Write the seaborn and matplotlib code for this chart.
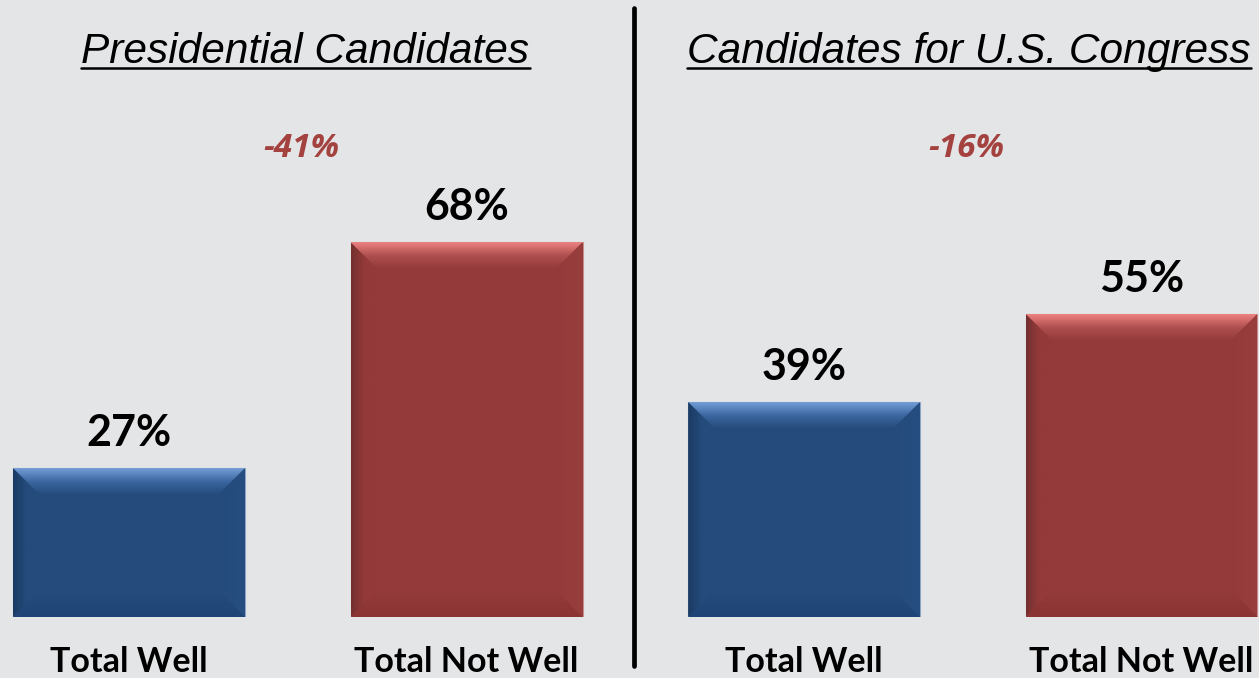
import numpy as np
import pandas as pd
import seaborn as sns
import matplotlib.pyplot as plt
from matplotlib.colors import LinearSegmentedColormap
from matplotlib.patches import Polygon
from matplotlib.lines import Line2D

# data
categories = ['Total Well', 'Total Not Well']
panel_titles = ['Presidential Candidates', 'Candidates for U.S. Congress']
presidential = [27, 68]
congress = [39, 55]
gap_labels = ['-41%', '-16%']

sns.set_theme(style='white')
plt.rcParams['font.family'] = ['Lato', 'DejaVu Sans']

BG = '#E4E5E7'
W, H = 1259, 678

# face, top edge, top mid, left, right, bottom
bevel_cols = {
    'Total Well': ('#244B7B', '#729DD6', '#3B669F', '#1B3B63', '#264E80', '#1F4576'),
    'Total Not Well': ('#943A3A', '#EE8281', '#AD4F4E', '#74302F', '#983E3D', '#8A3433'),
}
edge_cols = {'Total Well': '#8EA6C6', 'Total Not Well': '#C98C8B'}


def add_bevel(ax, patch, cols, size=27):
    face, top, mid, left, right, bottom = cols
    x0, y0 = patch.get_x(), patch.get_y()
    x1, y1 = x0 + patch.get_width(), y0 + patch.get_height()
    p0 = ax.transData.transform((x0, y0))
    bx, by = ax.transData.inverted().transform((p0[0] + size, p0[1] + size))
    dx, dy = bx - x0, by - y0
    n = 64
    ramp = np.linspace(0, 1, n)
    bands = [
        ([(x0, y1), (x1, y1), (x1 - dx, y1 - dy), (x0 + dx, y1 - dy)],
         [top, mid, face], ramp.reshape(-1, 1), [x0, x1, y1 - dy, y1]),
        ([(x0, y0), (x0 + dx, y0 + dy), (x0 + dx, y1 - dy), (x0, y1)],
         [left, face, face], ramp.reshape(1, -1), [x0, x0 + dx, y0, y1]),
        ([(x1, y0), (x1 - dx, y0 + dy), (x1 - dx, y1 - dy), (x1, y1)],
         [face, right], ramp.reshape(1, -1), [x1 - dx, x1, y0, y1]),
        ([(x0, y0), (x1, y0), (x1 - dx, y0 + dy), (x0 + dx, y0 + dy)],
         [face, bottom], ramp.reshape(-1, 1), [x0, x1, y0, y0 + dy]),
    ]
    for pts, colors, arr, ext in bands:
        poly = Polygon(pts, closed=True, facecolor='none', edgecolor='none',
                       transform=ax.transData)
        ax.add_patch(poly)
        cmap = LinearSegmentedColormap.from_list('b', colors)
        im = ax.imshow(arr, cmap=cmap, extent=ext, aspect='auto',
                       interpolation='bilinear', zorder=3, origin='upper')
        im.set_clip_path(poly)


fig = plt.figure(figsize=(W / 100, H / 100), dpi=100, facecolor=BG)

panels = [
    (presidential, [0, 61 / H, 633 / W, 617 / H], (-0.382, 1.493), 0.523),
    (congress, [636 / W, 61 / H, 623 / W, 617 / H], (-0.498, 1.348), 0.489),
]

titles = []
for k, (vals, rect, xlim, tx) in enumerate(panels):
    ax = fig.add_axes(rect)
    ax.set_facecolor(BG)
    df = pd.DataFrame({'group': categories, 'pct': vals})
    sns.barplot(data=df, x='group', y='pct', hue='group',
                palette={c: bevel_cols[c][0] for c in categories},
                saturation=1, width=0.687, legend=False, ax=ax, zorder=2)
    ax.set_xlim(*xlim)
    ax.set_ylim(0, 112)
    for patch, cat in zip(ax.patches, categories):
        patch.set_edgecolor(edge_cols[cat])
        patch.set_linewidth(0.8)
        add_bevel(ax, patch, bevel_cols[cat])
    ax.set_xlim(*xlim)
    ax.set_ylim(0, 112)

    for i, v in enumerate(vals):
        ax.text(i, v + 4, f'{v}%', ha='center', va='baseline',
                fontsize=31, fontweight='bold', color='black')

    ax.text(0.51 - 0.03 * k, 85, gap_labels[k], ha='center', va='center',
            fontsize=24, fontweight='bold', fontstyle='italic',
            family='Open Sans', color='#A3423F')

    t = ax.text(tx, 100.5, panel_titles[k], ha='center', va='baseline',
                fontsize=30.5, fontstyle='italic', family='Liberation Sans',
                color='black', clip_on=False)
    titles.append((ax, t))

    ax.set_xlabel('')
    ax.set_ylabel('')
    ax.set_yticks([])
    ax.tick_params(axis='x', length=0, pad=21)
    for lab in ax.get_xticklabels():
        lab.set_fontsize(24.5)
        lab.set_fontweight('bold')
        lab.set_color('black')
    sns.despine(ax=ax, left=True, bottom=True)

# underline the panel titles
fig.canvas.draw()
renderer = fig.canvas.get_renderer()
for ax, t in titles:
    bb = t.get_window_extent(renderer)
    base = ax.transData.transform(t.get_position())[1]
    y = (base - 5) / H
    fig.add_artist(Line2D([bb.x0 / W, bb.x1 / W], [y, y], color='black',
                          lw=1.8, transform=fig.transFigure))

# vertical divider between the panels
fig.add_artist(Line2D([634 / W, 634 / W], [(H - 8) / H, (H - 666) / H],
                      color='black', lw=3.4, transform=fig.transFigure))

fig.savefig('out.png', dpi=100, facecolor=BG)
